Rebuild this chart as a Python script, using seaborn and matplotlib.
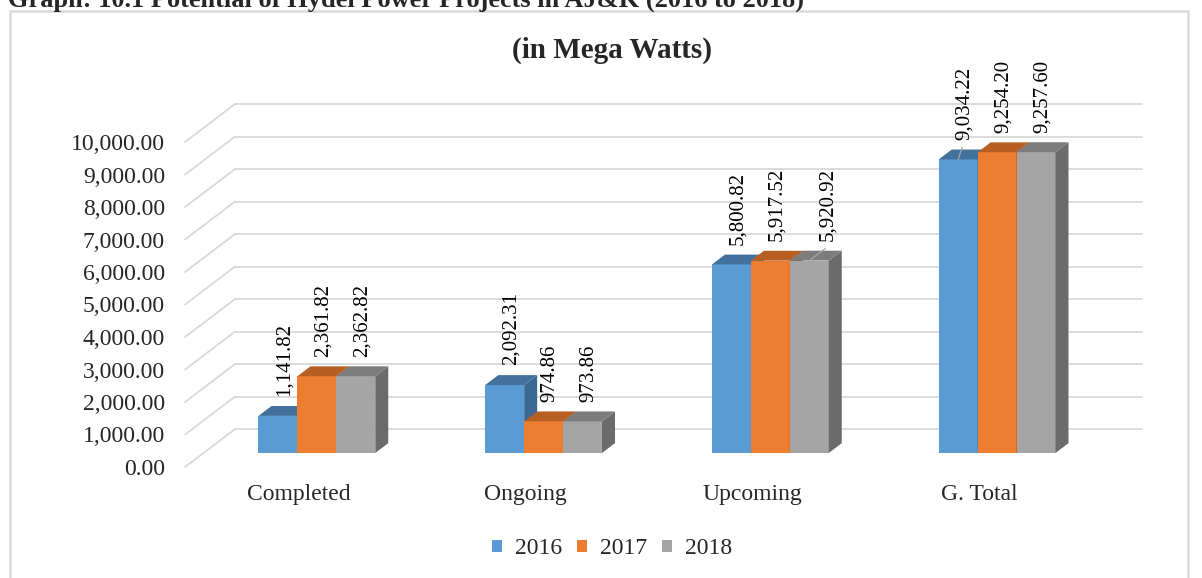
import numpy as np
import pandas as pd
import seaborn as sns
import matplotlib.pyplot as plt
from matplotlib.patches import Polygon, Rectangle
from matplotlib.transforms import ScaledTranslation

# chart data
categories = ['Completed', 'Ongoing', 'Upcoming', 'G. Total']
years = ['2016', '2017', '2018']
values_2016 = [1141.82, 2092.31, 5800.82, 9034.22]
values_2017 = [2361.82, 974.86, 5917.52, 9254.20]
values_2018 = [2362.82, 973.86, 5920.92, 9257.60]
y_ticks = list(range(0, 10001, 1000))
# labels that Excel pulled off the bar, with a leader line: (category, year, x shift px)
leader_labels = [('Upcoming', '2018', 12), ('G. Total', '2016', 0)]

front_colors = ['#5B9BD5', '#ED7D31', '#A5A5A5']
top_colors = ['#41719C', '#B75E22', '#7C7C7C']
side_colors = ['#3A6891', '#A5531E', '#6B6B6B']
grid_color = '#D9D9D9'

df = pd.DataFrame({
    'category': categories * 3,
    'year': [y for y in years for _ in categories],
    'value': values_2016 + values_2017 + values_2018,
})

sns.set_style('white')
plt.rcParams['font.family'] = ['Liberation Serif', 'DejaVu Serif']

fig = plt.figure(figsize=(12.02, 5.78), dpi=100)
ax = fig.add_axes([203.5 / 1202, 125 / 578, 907 / 1202, 325 / 578])

sns.barplot(data=df, x='category', y='value', hue='year', palette=front_colors,
            width=0.515, saturation=1, ax=ax, edgecolor='none', linewidth=0)

ax.set_xlim(-0.5, 3.5)
ax.set_ylim(0, 10000)

# fake 3d: depth of the whole floor in data units, bar plane sits 37% back
DX, DY = 0.2205, 1169
FRONT = 0.37
BACK = 1 - FRONT
bdx, bdy = 0.26 * DX, 0.26 * DY
px_x, px_y = 4 / 907, 10000 / 325  # one pixel in data units

for v in y_ticks:
    ax.plot([-0.5 + BACK * DX, 3.5 + BACK * DX], [v + BACK * DY] * 2,
            color=grid_color, lw=1.3, zorder=0.5, clip_on=False)
    ax.plot([-0.5 - FRONT * DX, -0.5 + BACK * DX], [v - FRONT * DY, v + BACK * DY],
            color=grid_color, lw=1.3, zorder=0.5, clip_on=False)

for j, cont in enumerate(ax.containers):
    for i, p in enumerate(cont.patches):
        x0 = p.get_x()
        x1 = x0 + p.get_width()
        h = p.get_height()
        xc = (x0 + x1) / 2
        p.set_zorder(3 + j)
        top = Polygon([(x0, h), (x1, h), (x1 + bdx, h + bdy), (x0 + bdx, h + bdy)],
                      closed=True, fc=top_colors[j], ec='none', zorder=3 + j, clip_on=False)
        side = Polygon([(x1, 0), (x1, h), (x1 + bdx, h + bdy), (x1 + bdx, bdy)],
                       closed=True, fc=side_colors[j], ec='none', zorder=3 + j, clip_on=False)
        ax.add_patch(side)
        ax.add_patch(top)
        shift = 0
        for cat, yr, sx in leader_labels:
            if cat == categories[i] and yr == years[j]:
                shift = sx
                ax.plot([xc, xc + (sx + 4) * px_x], [h, h + 12 * px_y], color='#A6A6A6',
                        lw=0.9, zorder=9, clip_on=False)
        ax.annotate(f'{h:,.2f}', xy=(xc + bdx / 2, h + bdy),
                    xytext=(shift * 0.72, 7), textcoords='offset points', rotation=90,
                    ha='center', va='bottom', fontsize=15, color='#000000',
                    annotation_clip=False, zorder=10)

sns.despine(ax=ax, left=True, bottom=True)
ax.set_xlabel('')
ax.set_ylabel('')
ax.set_yticks(y_ticks)
ax.set_yticklabels([f'{v:,.2f}' for v in y_ticks])
ax.tick_params(axis='y', length=0, pad=27.7, labelsize=17)
ax.tick_params(axis='x', length=0, pad=12, labelsize=17)
ax.grid(False)

for lab in ax.get_yticklabels():
    lab.set_transform(lab.get_transform() + ScaledTranslation(0, -0.14, fig.dpi_scale_trans))
for lab in ax.get_xticklabels():
    lab.set_transform(lab.get_transform() + ScaledTranslation(-0.18, -0.14, fig.dpi_scale_trans))

handles, labels = ax.get_legend_handles_labels()
ax.legend_.remove()
fig.legend(handles, labels, loc='center', bbox_to_anchor=(612 / 1202, 1 - 549 / 578),
           ncol=3, frameon=False, fontsize=17, handlelength=0.45, handleheight=0.45,
           handletextpad=0.55, columnspacing=0.6)

fig.text(612 / 1202, 1 - 50 / 578, '(in Mega Watts)', ha='center', va='center',
         fontsize=21, fontweight='bold')
fig.text(8 / 1202, 1 - 7 / 578,
         'Graph: 10.1 Potential of Hydel Power Projects in AJ&K (2016 to 2018)',
         ha='left', va='baseline', fontsize=19, fontweight='bold')

fig.patches.append(Rectangle((10 / 1202, -0.05), 1178 / 1202, 1.05 - 11.5 / 578,
                             transform=fig.transFigure, fill=False,
                             ec=grid_color, lw=1.8))

fig.savefig('out.png', dpi=100)
